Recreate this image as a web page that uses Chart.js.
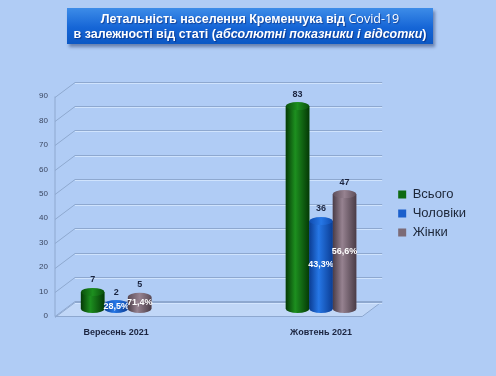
<!DOCTYPE html>
<html>
<head>
<meta charset="utf-8">
<script src="https://cdn.jsdelivr.net/npm/chart.js@4.4.1/dist/chart.umd.min.js"></script>
<style>
  html, body { margin: 0; padding: 0; }
  body { width: 496px; height: 376px; background: #b0ccf5; position: relative; overflow: hidden; }
  #title {
    position: absolute; left: 67px; top: 8px; width: 366px; height: 36px;
    background: linear-gradient(#3d8ce8, #1565d6 55%, #0c58c4);
    box-shadow: 2px 3px 3px rgba(20, 40, 90, 0.45);
    color: #fff; text-align: center;
    font: bold 12.5px "Liberation Sans", Arial, sans-serif; line-height: 15px;
    padding-top: 3px; box-sizing: border-box;
    text-shadow: 1px 1px 1px rgba(0, 0, 60, 0.4);
    z-index: 2;
  }
  #title .cv { font-family: "Open Sans", sans-serif; font-weight: normal; }
  #chart { position: absolute; left: 0; top: 0; }
</style>
</head>
<body>
<div id="title">Летальність населення Кременчука від <span class="cv">Covid-19</span><br>в залежності від статі (<i>абсолютні показники і відсотки</i>)</div>
<canvas id="chart" width="496" height="376"></canvas>
<script>
// data
var months = ['Вересень 2021', 'Жовтень 2021'];
var seriesNames = ['Всього', 'Чоловіки', 'Жінки'];
var total = [7, 83];
var men = [2, 36];
var women = [5, 47];
var menPct = ['28,5%', '43,3%'];
var womenPct = ['71,4%', '56,6%'];
var yMax = 90;
var yStep = 10;

// colours: legend / cylinder edge / cylinder middle
var colors = ['#0f6a12', '#1a5fcc', '#7c6b77'];
var shades = [
  ['#053a06', '#1d8f1f', '#0a500b'],
  ['#0b3d94', '#2677e6', '#0f4cb0'],
  ['#4a3c47', '#968290', '#5d4d59']
];

var depthX = 10, depthY = 7.5;
var legendGap = 20;

// 3d-ish walls, floor and gridlines behind the bars
var walls = {
  id: 'walls',
  beforeDatasetsDraw(chart) {
    var c = chart.ctx, area = chart.chartArea, ys = chart.scales.y;
    var L = area.left, R = area.right;
    var y0 = ys.getPixelForValue(0), yTop = ys.getPixelForValue(yMax);
    c.save();
    // floor
    c.beginPath();
    c.moveTo(L - depthX, y0 + depthY);
    c.lineTo(R - depthX, y0 + depthY);
    c.lineTo(R + depthX, y0 - depthY);
    c.lineTo(L + depthX, y0 - depthY);
    c.closePath();
    c.fillStyle = 'rgba(255,255,255,0.22)';
    c.fill();
    c.strokeStyle = '#8ea8cf';
    c.lineWidth = 1;
    c.stroke();
    // gridlines, with a faint light line under each
    for (var v = 0; v <= yMax; v += yStep) {
      var yy = Math.round(ys.getPixelForValue(v) - depthY) + 0.5;
      c.strokeStyle = 'rgba(215,232,255,0.8)';
      c.beginPath();
      c.moveTo(L + depthX, yy + 1);
      c.lineTo(R + depthX, yy + 1);
      c.stroke();
      c.strokeStyle = '#8ea8cf';
      c.beginPath();
      c.moveTo(L - depthX, yy + 2 * depthY);
      c.lineTo(L + depthX, yy);
      c.lineTo(R + depthX, yy);
      c.stroke();
    }
    // front axis
    c.beginPath();
    c.moveTo(L - depthX, y0 + depthY);
    c.lineTo(L - depthX, yTop + depthY);
    c.stroke();
    c.restore();
  }
};

// cylinders over the flat bars + labels
var cylinders = {
  id: 'cylinders',
  afterDatasetsDraw(chart) {
    var c = chart.ctx;
    c.save();
    chart.data.datasets.forEach(function(ds, di) {
      var meta = chart.getDatasetMeta(di);
      meta.data.forEach(function(bar, i) {
        var p = bar.getProps(['x', 'y', 'base', 'width'], true);
        var l = p.x - p.width / 2, r = p.x + p.width / 2, rx = p.width / 2, ry = 4;
        var g = c.createLinearGradient(l, 0, r, 0);
        g.addColorStop(0, shades[di][0]);
        g.addColorStop(0.4, shades[di][1]);
        g.addColorStop(1, shades[di][0]);
        c.fillStyle = g;
        c.beginPath();
        c.moveTo(l, p.y);
        c.lineTo(l, p.base);
        c.ellipse(p.x, p.base, rx, ry, 0, Math.PI, 0, true);
        c.lineTo(r, p.y);
        c.closePath();
        c.fill();
        var g2 = c.createLinearGradient(l, 0, r, 0);
        g2.addColorStop(0, shades[di][2]);
        g2.addColorStop(0.5, shades[di][1]);
        g2.addColorStop(1, shades[di][2]);
        c.fillStyle = g2;
        c.beginPath();
        c.ellipse(p.x, p.y, rx, ry, 0, 0, Math.PI * 2);
        c.fill();

        c.textAlign = 'center';
        c.textBaseline = 'middle';
        c.font = 'bold 9px "Liberation Sans", Arial, sans-serif';
        c.fillStyle = '#1b2540';
        c.fillText(String(ds.data[i]), p.x, p.y - ry - 8);
        var pct = di === 1 ? menPct[i] : di === 2 ? womenPct[i] : null;
        if (pct) {
          c.fillStyle = '#ffffff';
          c.fillText(pct, p.x, (p.y + p.base) / 2);
        }
      });
    });
    c.restore();
  }
};

// stretch the category axis so the two groups sit where the original puts them,
// and leave a gap between the plot and the legend
var tweakLayout = {
  id: 'tweakLayout',
  beforeLayout(chart) {
    var lg = chart.legend;
    if (lg && !lg._gapFit) {
      var fit = lg.fit;
      lg.fit = function() { fit.call(this); this.width += legendGap; };
      lg._gapFit = true;
    }
  },
  afterLayout(chart) {
    var x = chart.scales.x;
    var ext = x.width * 0.167;
    x.left -= ext;
    x.right += ext;
    x.width = x.right - x.left;
    x.configure();
    if (chart.legend) chart.legend.left += legendGap;
  }
};

Chart.defaults.font.family = '"Liberation Sans", Arial, sans-serif';

new Chart('chart', {
  type: 'bar',
  plugins: [walls, cylinders, tweakLayout],
  data: {
    labels: months,
    datasets: [
      { label: seriesNames[0], data: total, backgroundColor: colors[0] },
      { label: seriesNames[1], data: men, backgroundColor: colors[1] },
      { label: seriesNames[2], data: women, backgroundColor: colors[2] }
    ]
  },
  options: {
    responsive: false,
    animation: false,
    devicePixelRatio: 1,
    layout: { padding: { top: 89, left: 39, bottom: 38, right: 20 } },
    datasets: {
      bar: { categoryPercentage: 0.344, barPercentage: 1.0, borderWidth: 0 }
    },
    scales: {
      x: {
        grid: { display: false, drawTicks: false },
        border: { display: false },
        afterFit: function(s) { s.height = 29; },
        ticks: {
          padding: 18,
          color: '#1c2540',
          font: { size: 9, weight: 'bold' }
        }
      },
      y: {
        min: 0,
        max: yMax,
        grid: { display: false, drawTicks: false },
        border: { display: false },
        afterFit: function(s) { s.width = 26; },
        ticks: {
          stepSize: yStep,
          padding: 17,
          labelOffset: 7,
          color: '#3a4660',
          font: { size: 8 }
        }
      }
    },
    plugins: {
      tooltip: { enabled: false },
      legend: {
        position: 'right',
        labels: {
          boxWidth: 8,
          boxHeight: 8,
          padding: 6,
          color: '#1c2638',
          font: { size: 13 }
        }
      }
    }
  }
});
</script>
</body>
</html>
